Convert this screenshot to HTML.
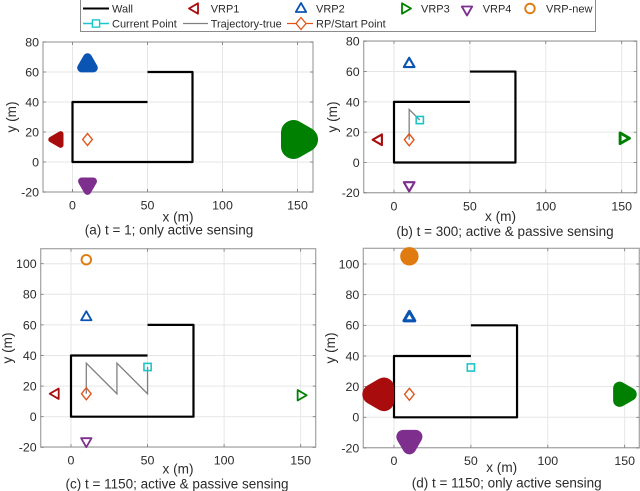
<!DOCTYPE html>
<html lang="en">
<head>
<meta charset="utf-8">
<title>VRP localization panels</title>
<style>
html,body{margin:0;padding:0;background:#fff;width:640px;height:491px;overflow:hidden}
svg{display:block}
text{font-family:"Liberation Sans",sans-serif;fill:#2b2b2b}
</style>
</head>
<body>
<svg id="chart" xmlns="http://www.w3.org/2000/svg" width="640" height="491" viewBox="0 0 640 491"></svg>
<script>
// ---- data ----
const wallX = [50, 80, 80, 0, 0, 50];
const wallY = [60, 60, 0, 0, 40, 40];
const xTickLabels = [0, 50, 100, 150];
const yTickLabelsShort = [-20, 0, 20, 40, 60, 80];
const yTickLabelsTall = [-20, 0, 20, 40, 60, 80, 100];
const vrpNames = ['vrp1', 'vrp2', 'vrp3', 'vrp4', 'vrp-new'];

const vrpXA = [-10, 10, 150, 10, 10];
const vrpYA = [15, 65, 15, -15, 103];
const spreadA = [3.7, 6, 16.7, 5, 0];

const vrpXB = [-10, 10, 151, 10, 10];
const vrpYB = [15, 65, 16, -15, 103];
const spreadB = [1.4, 1.4, 1.9, 1.4, 0];

const vrpXC = [-10, 10, 150, 10, 10];
const vrpYC = [15, 65, 14, -16, 102.6];
const spreadC = [0, 0, 0, 0, 0.6];

const vrpXD = [-9, 10, 149, 10, 10];
const vrpYD = [15, 65, 15, -15, 105];
const spreadD = [13.3, 2, 8.5, 9, 3.5];

const startX = [10];
const startY = [15];

const trajXA = [];
const trajYA = [];
const trajXB = [10, 10, 17];
const trajYB = [15, 35, 28];
const trajXC = [10, 10, 30, 30, 50, 50];
const trajYC = [15, 35, 15, 35, 15, 32.5];
const trajXD = [];
const trajYD = [];

const currentXB = [17];
const currentYB = [28];
const currentXC = [50];
const currentYC = [32.5];
const currentXD = [50];
const currentYD = [32.5];
const currentXA = [];
const currentYA = [];

// ---- layout ----
const svg = document.getElementById('chart');
const NS = 'http://www.w3.org/2000/svg';
const C = {vrp1:'#a80c0c', vrp2:'#0a55b4', vrp3:'#008000', vrp4:'#7e2f8e', vrpNew:'#e07b10', cur:'#1cc5c9', traj:'#808080', start:'#e0541a'};
const markerColors = [C.vrp1, C.vrp2, C.vrp3, C.vrp4, C.vrpNew];
const markerDirs = ['left', 'up', 'right', 'down', 'circle'];

function make(tag, parent, props, name, interactable) {
  const el = document.createElementNS(NS, tag);
  for (const k in props) el.setAttribute(k, props[k]);
  
  
  parent.appendChild(el);
  return el;
}
function txt(parent, x, y, s, size, anchor, name, extra) {
  const t = make('text', parent, Object.assign({x:x, y:y, 'font-size':size, 'text-anchor':anchor}, extra || {}), name, false);
  t.textContent = s;
  return t;
}
function triPoints(cx, cy, R, dir) {
  const a = R * 0.866, b = R * 0.5;
  if (dir === 'left')  return [[cx-R,cy],[cx+b,cy-a],[cx+b,cy+a]];
  if (dir === 'right') return [[cx+R,cy],[cx-b,cy-a],[cx-b,cy+a]];
  if (dir === 'up')    return [[cx,cy-R],[cx-a,cy+b],[cx+a,cy+b]];
  return [[cx,cy+R],[cx-a,cy-b],[cx+a,cy-b]];
}
function ptStr(p){ return p.map(q => q[0].toFixed(2)+','+q[1].toFixed(2)).join(' '); }

function drawMarker(parent, cx, cy, dir, color, spread, scale, name) {
  const w = Math.max(1.8, spread * scale);
  const filled = spread >= 2.2;
  if (dir === 'circle') {
    const r = 4.4 + spread * 0.6;
    make('circle', parent, {cx:cx, cy:cy, r:r, fill: filled ? color : 'none', stroke:color, 'stroke-width':Math.max(1.9, w)}, name, false);
    return;
  }
  const R = 6 + spread * 0.12;
  make('polygon', parent, {points:ptStr(triPoints(cx, cy, R, dir)), fill: filled ? color : 'none', stroke:color, 'stroke-width':w, 'stroke-linejoin':'round'}, name, false);
}

function drawPanel(cfg) {
  const g = make('g', svg, {}, 'panel-' + cfg.id, false);
  const sx = v => cfg.x0 + v * cfg.kx;
  const sy = v => cfg.y0 - v * cfg.ky;
  make('rect', g, {x:cfg.left, y:cfg.top, width:cfg.right-cfg.left, height:cfg.bottom-cfg.top, fill:'#fff'}, 'plot-area', false);

  xTickLabels.forEach(v => {
    make('line', g, {x1:sx(v), x2:sx(v), y1:cfg.top, y2:cfg.bottom, stroke:'#e6e6e6', 'stroke-width':1}, 'x-gridline', false);
  });
  cfg.yTicks.forEach(v => {
    make('line', g, {x1:cfg.left, x2:cfg.right, y1:sy(v), y2:sy(v), stroke:'#e6e6e6', 'stroke-width':1}, 'y-gridline', false);
  });

  make('rect', g, {x:cfg.left, y:cfg.top, width:cfg.right-cfg.left, height:cfg.bottom-cfg.top, fill:'none', stroke:'#a2a2a2', 'stroke-width':1.2}, 'axes-box', false);

  xTickLabels.forEach(v => {
    make('line', g, {x1:sx(v), x2:sx(v), y1:cfg.bottom, y2:cfg.bottom-3, stroke:'#777', 'stroke-width':0.8}, 'x-tick', false);
    make('line', g, {x1:sx(v), x2:sx(v), y1:cfg.top, y2:cfg.top+3, stroke:'#777', 'stroke-width':0.8}, 'x-tick-top', false);
    txt(g, sx(v), cfg.tickY, String(v), 12.4, 'middle', 'x-tick-label');
  });
  cfg.yTicks.forEach(v => {
    make('line', g, {x1:cfg.left, x2:cfg.left+3, y1:sy(v), y2:sy(v), stroke:'#777', 'stroke-width':0.8}, 'y-tick', false);
    make('line', g, {x1:cfg.right, x2:cfg.right-3, y1:sy(v), y2:sy(v), stroke:'#777', 'stroke-width':0.8}, 'y-tick-right', false);
    txt(g, cfg.left-4, sy(v)+4.4, String(v), 12.4, 'end', 'y-tick-label');
  });

  txt(g, cfg.xLabelX, cfg.xLabelY, 'x (m)', 13.6, 'middle', 'x-axis-title');
  txt(g, cfg.yLabelX, cfg.yLabelY, 'y (m)', 13.6, 'middle', 'y-axis-title',
      {transform:'rotate(-90 ' + cfg.yLabelX + ' ' + cfg.yLabelY + ')'});
  txt(g, cfg.titleX, cfg.titleY, cfg.title, 13.5, 'middle', 'panel-caption');

  make('polyline', g, {points:wallX.map((v,i) => sx(v)+','+sy(wallY[i])).join(' '), fill:'none', stroke:'#000', 'stroke-width':2.2, 'stroke-linejoin':'round'}, 'wall', false);

  if (cfg.trajX.length) {
    make('polyline', g, {points:cfg.trajX.map((v,i) => sx(v)+','+sy(cfg.trajY[i])).join(' '), fill:'none', stroke:C.traj, 'stroke-width':1.3}, 'trajectory-true', false);
  }

  cfg.vrpX.forEach((v,i) => {
    if (cfg.vrpY[i] > cfg.yMax) return;
    drawMarker(g, sx(v), sy(cfg.vrpY[i]), markerDirs[i], markerColors[i], cfg.spread[i], cfg.kx, vrpNames[i] + '-marker');
  });

  const dx = sx(startX[0]), dy = sy(startY[0]);
  make('polygon', g, {points:ptStr([[dx,dy-6],[dx+4.8,dy],[dx,dy+6],[dx-4.8,dy]]), fill:'none', stroke:C.start, 'stroke-width':1.4}, 'rp-start-point', false);

  cfg.curX.forEach((v,i) => {
    make('rect', g, {x:sx(v)-3.6, y:sy(cfg.curY[i])-3.6, width:7.2, height:7.2, fill:'none', stroke:C.cur, 'stroke-width':1.6}, 'current-point', false);
  });
}

drawPanel({id:'a', left:43, right:313, top:42, bottom:192, x0:72.5, kx:1.5, y0:162, ky:1.5, yMax:80, yTicks:yTickLabelsShort,
  tickY:209.4, xLabelX:178, xLabelY:221.5, yLabelX:16, yLabelY:117, titleX:169, titleY:234.5,
  title:'(a) t = 1; only active sensing',
  vrpX:vrpXA, vrpY:vrpYA, spread:spreadA, trajX:trajXA, trajY:trajYA, curX:currentXA, curY:currentYA});
drawPanel({id:'b', left:363.7, right:636.7, top:41, bottom:192.7, x0:394, kx:1.518, y0:162.5, ky:1.516, yMax:80, yTicks:yTickLabelsShort,
  tickY:210.4, xLabelX:500.5, xLabelY:221, yLabelX:337, yLabelY:117, titleX:505, titleY:236,
  title:'(b) t = 300; active & passive sensing',
  vrpX:vrpXB, vrpY:vrpYB, spread:spreadB, trajX:trajXB, trajY:trajYB, curX:currentXB, curY:currentYB});
drawPanel({id:'c', left:40.7, right:315.7, top:248.7, bottom:447, x0:71, kx:1.531, y0:416.7, ky:1.53, yMax:110, yTicks:yTickLabelsTall,
  tickY:464.4, xLabelX:178, xLabelY:473.5, yLabelX:12, yLabelY:348, titleX:177, titleY:488.5,
  title:'(c) t = 1150; active & passive sensing',
  vrpX:vrpXC, vrpY:vrpYC, spread:spreadC, trajX:trajXC, trajY:trajYC, curX:currentXC, curY:currentYC});
drawPanel({id:'d', left:363.3, right:639.3, top:248.3, bottom:447.7, x0:394, kx:1.538, y0:417.3, ky:1.533, yMax:110, yTicks:yTickLabelsTall,
  tickY:465, xLabelX:501.7, xLabelY:472, yLabelX:335, yLabelY:348, titleX:506.7, titleY:487.5,
  title:'(d) t = 1150; only active sensing',
  vrpX:vrpXD, vrpY:vrpYD, spread:spreadD, trajX:trajXD, trajY:trajYD, curX:currentXD, curY:currentYD});

// ---- legend ----
const lg = make('g', svg, {}, 'legend', false);
make('rect', lg, {x:80.5, y:-1, width:515, height:32.5, fill:'#fff', stroke:'#7f7f7f', 'stroke-width':0.9}, 'legend-box', false);
const row1 = 8.5, row2 = 23.5;
make('line', lg, {x1:83, x2:109, y1:row1, y2:row1, stroke:'#000', 'stroke-width':2}, 'legend-wall-line', false);
txt(lg, 112, row1+3.9, 'Wall', 11, 'start', 'legend-wall-label');
drawMarker(lg, 195, row1, 'left', C.vrp1, 0, 1, 'legend-vrp1-marker');
txt(lg, 210.7, row1+3.9, 'VRP1', 11, 'start', 'legend-vrp1-label');
drawMarker(lg, 301, row1+0.5, 'up', C.vrp2, 0, 1, 'legend-vrp2-marker');
txt(lg, 316, row1+3.9, 'VRP2', 11, 'start', 'legend-vrp2-label');
drawMarker(lg, 405, row1, 'right', C.vrp3, 0, 1, 'legend-vrp3-marker');
txt(lg, 421, row1+3.9, 'VRP3', 11, 'start', 'legend-vrp3-label');
drawMarker(lg, 467, row1+1, 'down', C.vrp4, 0, 1, 'legend-vrp4-marker');
txt(lg, 482.7, row1+3.9, 'VRP4', 11, 'start', 'legend-vrp4-label');
drawMarker(lg, 530, row1, 'circle', C.vrpNew, 0.6, 1, 'legend-vrp-new-marker');
txt(lg, 546, row1+3.9, 'VRP-new', 11, 'start', 'legend-vrp-new-label');
make('line', lg, {x1:83, x2:109, y1:row2, y2:row2, stroke:C.cur, 'stroke-width':1.4}, 'legend-current-line', false);
make('rect', lg, {x:92.4, y:row2-3.6, width:7.2, height:7.2, fill:'#fff', stroke:C.cur, 'stroke-width':1.4}, 'legend-current-marker', false);
txt(lg, 112, row2+3.9, 'Current Point', 11, 'start', 'legend-current-label');
make('line', lg, {x1:183, x2:208, y1:row2, y2:row2, stroke:C.traj, 'stroke-width':1.3}, 'legend-trajectory-line', false);
txt(lg, 210.7, row2+3.9, 'Trajectory-true', 11, 'start', 'legend-trajectory-label');
make('line', lg, {x1:287, x2:313, y1:row2, y2:row2, stroke:C.start, 'stroke-width':1.3}, 'legend-start-line', false);
make('polygon', lg, {points:ptStr([[301,row2-6],[306,row2],[301,row2+6],[296,row2]]), fill:'#fff', stroke:C.start, 'stroke-width':1.3}, 'legend-start-marker', false);
txt(lg, 316, row2+3.9, 'RP/Start Point', 11, 'start', 'legend-start-label');
</script>
</body>
</html>
